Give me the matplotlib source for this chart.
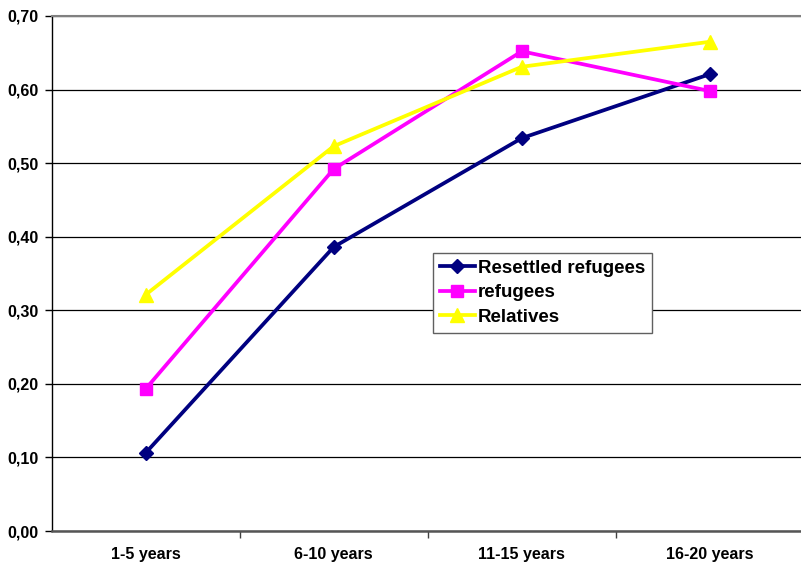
import matplotlib
matplotlib.use("Agg")
import matplotlib.pyplot as plt
from matplotlib.ticker import MultipleLocator, FuncFormatter

plt.rcParams['font.family'] = ['Liberation Sans', 'DejaVu Sans']
plt.rcParams['font.weight'] = 'bold'

categories = ["1-5 years", "6-10 years", "11-15 years", "16-20 years"]
resettled = [0.106, 0.386, 0.534, 0.621]
refugees = [0.193, 0.492, 0.652, 0.598]
relatives = [0.321, 0.523, 0.631, 0.665]

W, H = 801, 563
fig = plt.figure(figsize=(W / 100, H / 100), dpi=100)
left, right, top, bottom = 51.5, 804, 16, 531
ax = fig.add_axes([left / W, 1 - bottom / H, (right - left) / W, (bottom - top) / H])

x = list(range(len(categories)))
ax.plot(x, resettled, color='#000080', lw=2.7, marker='D', ms=7.5, label='Resettled refugees', clip_on=False)
ax.plot(x, refugees, color='#FF00FF', lw=2.7, marker='s', ms=8.5, label='refugees', clip_on=False)
ax.plot(x, relatives, color='#FFFF00', lw=2.7, marker='^', ms=9.5, label='Relatives', clip_on=False)

ax.set_xlim(-0.5, len(categories) - 0.5)
ax.set_ylim(0, 0.70)
ax.yaxis.set_major_locator(MultipleLocator(0.10))
ax.yaxis.set_major_formatter(FuncFormatter(lambda v, p: f"{v:.2f}".replace('.', ',')))
ax.set_xticks(x)
ax.set_xticklabels(categories)
ax.set_xticks([i + 0.5 for i in x[:-1]], minor=True)
ax.tick_params(axis='x', which='major', length=0, pad=11.5, labelsize=11.5)
ax.tick_params(axis='x', which='minor', length=5, width=1, color='#404040', direction='out')
ax.tick_params(axis='y', length=5, width=1, direction='out', labelsize=11.5, pad=4)
for lbl in ax.get_xticklabels() + ax.get_yticklabels():
    lbl.set_fontweight('bold')

ax.grid(axis='y', color='black', lw=0.9)
ax.set_axisbelow(True)
ax.spines['left'].set_color('black')
ax.spines['left'].set_linewidth(1.0)
ax.spines['bottom'].set_color('#555555')
ax.spines['bottom'].set_linewidth(1.8)
ax.spines['top'].set_color('#808080')
ax.spines['top'].set_linewidth(1.5)
ax.spines['right'].set_visible(False)

leg = ax.legend(loc='upper left', bbox_to_anchor=((433 - left) / (right - left), 1 - (253 - top) / (bottom - top)),
                frameon=True, fancybox=False, edgecolor='#606060', framealpha=1,
                prop={'size': 13.5, 'weight': 'bold'}, handlelength=1.9, handletextpad=0.15,
                labelspacing=0.4, borderpad=0.35, borderaxespad=0)
leg.get_frame().set_linewidth(1.0)

fig.savefig('out.png', dpi=100)
